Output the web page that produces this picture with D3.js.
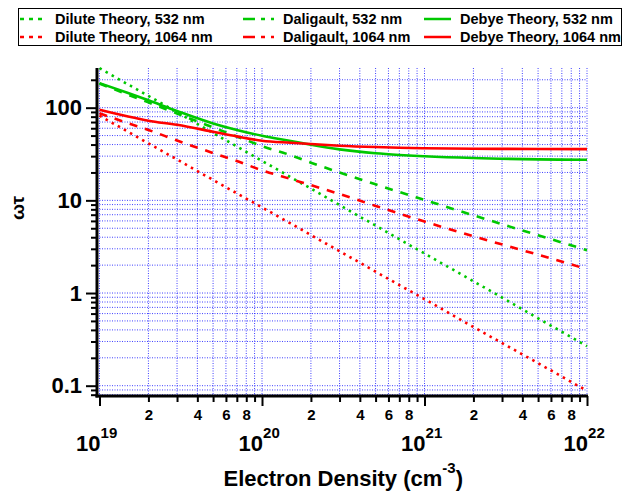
<!DOCTYPE html>
<html>
<head>
<meta charset="utf-8">
<script src="https://cdn.jsdelivr.net/npm/d3@7"></script>
<style>
body { margin: 0; background: #fff; }
text { font-family: "Liberation Sans", Arial, sans-serif; font-weight: bold; }
</style>
</head>
<body>
<div id="chart"></div>
<script>
// electron density grid (cm^-3) shared by every curve
var density = [1e19, 1.5e19, 2e19, 3e19, 5e19, 7e19, 1e20, 1.5e20, 2e20, 3e20, 5e20, 7e20, 1e21, 2e21, 5e21, 1e22];

var dilute532 = [267, 178, 134, 89, 53.4, 38.1, 26.7, 17.8, 13.4, 8.9, 5.34, 3.81, 2.67, 1.34, 0.534, 0.267];
var dilute1064 = [82, 54.9, 41.2, 27.6, 16.6, 11.9, 8.4, 5.63, 4.22, 2.83, 1.70, 1.22, 0.86, 0.43, 0.175, 0.088];
var daligault532 = [182, 138, 114, 86.5, 61.2, 48.9, 38.5, 30.7, 25.5, 20.0, 14.9, 12.3, 10.1, 6.9, 4.2, 2.9];
var daligault1064 = [87.1, 67.9, 57.5, 44.2, 32.4, 26.6, 21.1, 17.0, 14.6, 11.7, 8.71, 7.19, 5.90, 4.10, 2.59, 1.81];
var debye532 = [184, 144, 120, 92, 67.6, 57.5, 49.8, 43.7, 39.8, 35.5, 32.2, 30.9, 29.9, 28.6, 27.7, 27.4];
var debye1064 = [95, 80.3, 72.4, 65.3, 55, 49, 44, 41.8, 40.5, 38.9, 37.6, 37.0, 36.5, 36.1, 35.8, 35.7];

var seriesNames = ["Dilute Theory, 532 nm", "Daligault, 532 nm", "Debye Theory, 532 nm",
                   "Dilute Theory, 1064 nm", "Daligault, 1064 nm", "Debye Theory, 1064 nm"];
var seriesValues = [dilute532, daligault532, debye532, dilute1064, daligault1064, debye1064];

var yMajorTicks = [0.1, 1, 10, 100];
var yTickLabels = ["0.1", "1", "10", "100"];
var xDecades = [19, 20, 21, 22];

var svgWidth = 631;
var svgHeight = 494;

var green = "#00c800";
var red = "#ff0000";
var seriesColor = [green, green, green, red, red, red];
var seriesDash = ["2.5,4.5", "8,8", null, "2.5,4.5", "8,8", null];

var svg = d3.select("#chart")
            .append("svg")
            .attr("width", svgWidth)
            .attr("height", svgHeight);

var plotLeft = 97, plotRight = 587, plotTop = 68, plotBottom = 396;

var x = d3.scaleLog()
          .domain([1e19, 1e22])
          .range([99.5, 587]);

var y = d3.scaleLog()
          .domain([0.078, 268])
          .range([395.7, 68]);

// every 1..9 multiple of each decade
var xAllTicks = [];
for (var d = 19; d < 22; d++) {
    for (var m = 1; m < 10; m++) xAllTicks.push(m * Math.pow(10, d));
}
xAllTicks.push(1e22);

var yAllTicks = [];
for (var d = -2; d < 3; d++) {
    for (var m = 1; m < 10; m++) {
        var v = m * Math.pow(10, d);
        if (v >= 0.078 && v <= 268) yAllTicks.push(v);
    }
}

// grid
var grid = svg.append("g").attr("class", "grid");
grid.selectAll("line.gx")
    .data(xAllTicks)
    .enter()
    .append("line")
    .attr("x1", d => x(d)).attr("x2", d => x(d))
    .attr("y1", plotTop).attr("y2", plotBottom)
    .attr("stroke", "#0000ff")
    .attr("stroke-opacity", 0.75)
    .attr("stroke-width", 1)
    .attr("stroke-dasharray", "1,1.5");
grid.selectAll("line.gy")
    .data(yAllTicks)
    .enter()
    .append("line")
    .attr("x1", plotLeft).attr("x2", plotRight)
    .attr("y1", d => y(d)).attr("y2", d => y(d))
    .attr("stroke", "#0000ff")
    .attr("stroke-opacity", 0.75)
    .attr("stroke-width", 1)
    .attr("stroke-dasharray", "1,1.5");

// curves
var line = d3.line()
             .x(d => x(d[0]))
             .y(d => y(d[1]))
             .curve(d3.curveMonotoneX);

seriesValues.forEach(function(vals, i) {
    var pts = density.map((n, j) => [n, vals[j]]);
    svg.append("path")
       .datum(pts)
       .attr("d", line)
       .attr("fill", "none")
       .attr("stroke", seriesColor[i])
       .attr("stroke-width", 2.6)
       .attr("stroke-dasharray", seriesDash[i]);
});

// left axis
var leftAxis = d3.axisLeft(y)
                 .tickValues(yAllTicks)
                 .tickSizeOuter(0)
                 .tickFormat(function(d) {
                     var k = yMajorTicks.findIndex(t => Math.abs(t - d) / t < 1e-6);
                     return k >= 0 ? yTickLabels[k] : "";
                 });
var yAxis = svg.append("g")
               .attr("transform", `translate(${plotLeft}, 0)`)
               .call(leftAxis);
yAxis.select(".domain").remove();
yAxis.selectAll(".tick line")
     .attr("stroke", "black")
     .attr("stroke-width", 2)
     .attr("x2", function(d) { return yMajorTicks.some(t => Math.abs(t - d) / t < 1e-6) ? -11 : -6; });
yAxis.selectAll(".tick text")
     .attr("x", -15)
     .attr("font-size", "22px")
     .attr("font-family", "Liberation Sans, Arial, sans-serif")
     .attr("font-weight", "bold")
     .attr("fill", "black");

// bottom axis
var bottomAxis = d3.axisBottom(x)
                   .tickValues(xAllTicks)
                   .tickSizeOuter(0)
                   .tickFormat(function(d) {
                       var m = Math.round(d / Math.pow(10, Math.floor(Math.log10(d) + 1e-9)));
                       return (m === 2 || m === 4 || m === 6 || m === 8) ? String(m) : "";
                   });
var xAxis = svg.append("g")
               .attr("transform", `translate(0, ${plotBottom})`)
               .call(bottomAxis);
xAxis.select(".domain").remove();
xAxis.selectAll(".tick line")
     .attr("stroke", "black")
     .attr("stroke-width", 2)
     .attr("y2", function(d) {
         var m = Math.round(d / Math.pow(10, Math.floor(Math.log10(d) + 1e-9)));
         return m === 1 ? 10 : 6;
     });
xAxis.selectAll(".tick text")
     .attr("y", 13)
     .attr("dy", "0.71em")
     .attr("font-size", "15px")
     .attr("font-family", "Liberation Sans, Arial, sans-serif")
     .attr("font-weight", "bold")
     .attr("fill", "black");

// axis lines
svg.append("line")
   .attr("x1", plotLeft).attr("x2", plotLeft)
   .attr("y1", plotTop).attr("y2", plotBottom + 1.5)
   .attr("stroke", "black").attr("stroke-width", 3);
svg.append("line")
   .attr("x1", plotLeft - 1.5).attr("x2", plotRight + 1)
   .attr("y1", plotBottom).attr("y2", plotBottom)
   .attr("stroke", "black").attr("stroke-width", 3);

// decade labels 10^n
var decadeLabels = svg.append("g")
                      .selectAll("text")
                      .data(xDecades)
                      .enter()
                      .append("text")
                      .attr("x", d => x(Math.pow(10, d)) + 1)
                      .attr("y", 451)
                      .attr("text-anchor", "start")
                      .attr("font-size", "22px");
decadeLabels.append("tspan")
            .attr("dx", "-1.11em")
            .text("10");
decadeLabels.append("tspan")
            .attr("dy", -13)
            .attr("font-size", "15px")
            .text(d => d);

// axis titles
var xTitle = svg.append("text")
                .attr("x", (x(1e19) + x(1e22)) / 2)
                .attr("y", 486)
                .attr("text-anchor", "middle")
                .attr("font-size", "22px");
xTitle.append("tspan").text("Electron Density (cm");
xTitle.append("tspan").attr("dy", -13).attr("font-size", "15px").text("-3");
xTitle.append("tspan").attr("dy", 13).text(")");

svg.append("text")
   .attr("transform", `translate(24, ${(plotTop + plotBottom) / 2 - 24}) rotate(-90)`)
   .attr("text-anchor", "middle")
   .attr("font-size", "19px")
   .attr("font-weight", "normal")
   .attr("font-family", "DejaVu Serif, serif")
   .text("ωτ");

// legend
var legend = svg.append("g");
legend.append("rect")
      .attr("x", 18.5).attr("y", 8.5)
      .attr("width", 603).attr("height", 37)
      .attr("fill", "white")
      .attr("stroke", "black")
      .attr("stroke-width", 1);

var legendCols = [20, 243, 424];
var legendRows = [19, 37];
var legendLen = [26, 31, 27];

seriesNames.forEach(function(name, i) {
    var col = i % 3, row = Math.floor(i / 3);
    var lx = legendCols[col], ly = legendRows[row];
    legend.append("line")
          .attr("x1", lx).attr("x2", lx + legendLen[col])
          .attr("y1", ly).attr("y2", ly)
          .attr("stroke", seriesColor[i])
          .attr("stroke-width", 2.5)
          .attr("stroke-dasharray", seriesDash[i] ? (col === 0 ? "4,5" : "12,6,4,6") : null);
    legend.append("text")
          .attr("x", lx + legendLen[col] + 9)
          .attr("y", ly)
          .attr("dy", "0.36em")
          .attr("font-size", "14.5px")
          .text(name);
});
</script>
</body>
</html>
